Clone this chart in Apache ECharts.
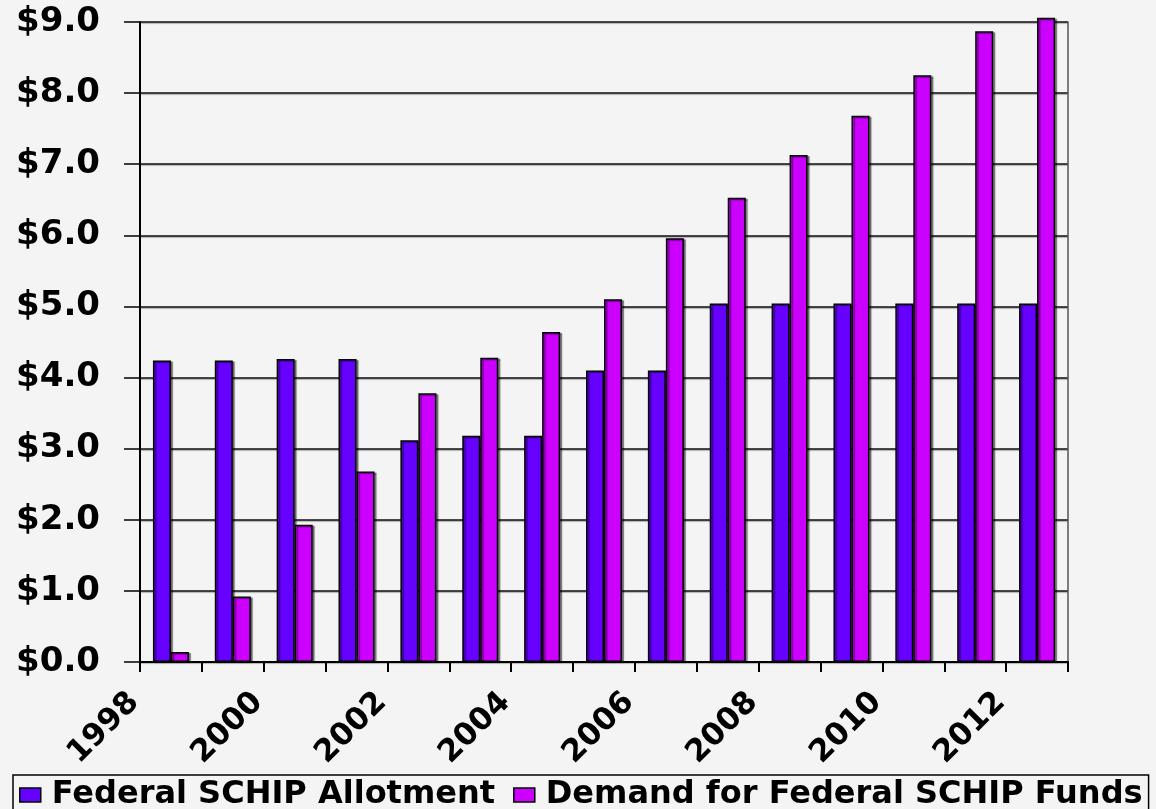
<!DOCTYPE html>
<html>
<head>
<meta charset="utf-8">
<script src="https://cdn.jsdelivr.net/npm/echarts@6/dist/echarts.min.js"></script>
<style>
    html, body { margin: 0; padding: 0; background: #f4f4f4; }
    #main { width: 1156px; height: 809px; }
</style>
</head>
<body>
<div id="main"></div>
<script>
    // values in $ billions
    var years = ['1998', '1999', '2000', '2001', '2002', '2003', '2004', '2005',
                 '2006', '2007', '2008', '2009', '2010', '2011', '2012'];
    var allotment = [4.24, 4.24, 4.26, 4.26, 3.12, 3.18, 3.18, 4.10, 4.10, 5.04, 5.04, 5.04, 5.04, 5.04, 5.04];
    var demand = [0.14, 0.92, 1.93, 2.68, 3.78, 4.28, 4.64, 5.10, 5.96, 6.53, 7.13, 7.68, 8.25, 8.87, 9.06];
    // labels sit on the year boundaries, every other year
    var tickLabels = ['1998', '', '2000', '', '2002', '', '2004', '', '2006', '', '2008', '', '2010', '', '2012', ''];
    var seriesNames = ['Federal SCHIP Allotment', 'Demand for Federal SCHIP Funds'];
    var colors = ['#6600ff', '#cc00ff'];

    var FONT = 'DejaVu Sans';

    function barSeries(name, values, color) {
        return {
            name: name,
            type: 'bar',
            xAxisIndex: 0,
            yAxisIndex: 0,
            data: values,
            barWidth: 18,
            barGap: '0%',
            clip: false,
            itemStyle: {
                color: color,
                borderColor: '#000',
                borderWidth: 1.5,
                shadowColor: 'rgba(0,0,0,0.45)',
                shadowOffsetX: 2,
                shadowOffsetY: 1,
                shadowBlur: 1
            }
        };
    }

    var chart = echarts.init(document.getElementById('main'));
    chart.setOption({
        backgroundColor: '#f4f4f4',
        animation: false,
        grid: { left: 140, right: 88, top: 22, bottom: 147 },
        legend: {
            data: seriesNames,
            left: 13,
            top: 775,
            orient: 'horizontal',
            icon: 'rect',
            itemWidth: 21,
            itemHeight: 14,
            itemGap: 18,
            padding: [4, 6, 12, 6],
            borderColor: '#000',
            borderWidth: 1.5,
            itemStyle: { borderColor: '#000', borderWidth: 1.5, shadowColor: 'transparent', shadowBlur: 0 },
            textStyle: { fontFamily: FONT, fontWeight: 'bold', fontSize: 32, color: '#000', padding: [0, 0, 0, 6] }
        },
        xAxis: [{
            type: 'category',
            data: years,
            boundaryGap: true,
            axisLine: { lineStyle: { color: '#000', width: 2 } },
            axisTick: { show: true, length: 10, lineStyle: { color: '#000', width: 2 } },
            axisLabel: { show: false },
            splitLine: { show: false }
        }, {
            type: 'category',
            data: tickLabels,
            boundaryGap: false,
            position: 'bottom',
            axisLine: { show: false },
            axisTick: { show: false },
            splitLine: { show: false },
            axisLabel: {
                interval: 0,
                rotate: 45,
                margin: 30,
                padding: [0, 8, 0, 0],
                fontFamily: FONT,
                fontWeight: 'bold',
                fontSize: 31,
                color: '#000'
            }
        }],
        yAxis: [{
            type: 'value',
            min: 0,
            max: 9,
            interval: 1,
            axisLine: { show: true, lineStyle: { color: '#000', width: 2 } },
            axisTick: { show: true, length: 16, lineStyle: { color: '#000', width: 1.5 } },
            axisLabel: {
                margin: 40,
                fontFamily: FONT,
                fontWeight: 'bold',
                fontSize: 34,
                color: '#000',
                formatter: function(v) { return '$' + v.toFixed(1); }
            },
            splitLine: {
                show: true,
                lineStyle: {
                    color: '#111',
                    width: 1.5,
                    shadowColor: 'rgba(0,0,0,0.35)',
                    shadowOffsetY: 1,
                    shadowBlur: 1
                }
            }
        }, {
            // right frame of the plot area
            type: 'value',
            position: 'right',
            min: 0,
            max: 9,
            interval: 1,
            axisLine: { show: true, lineStyle: { color: '#555', width: 1.5 } },
            axisTick: { show: false },
            axisLabel: { show: false },
            splitLine: { show: false }
        }],
        series: [
            barSeries(seriesNames[0], allotment, colors[0]),
            barSeries(seriesNames[1], demand, colors[1])
        ]
    });
</script>
</body>
</html>
